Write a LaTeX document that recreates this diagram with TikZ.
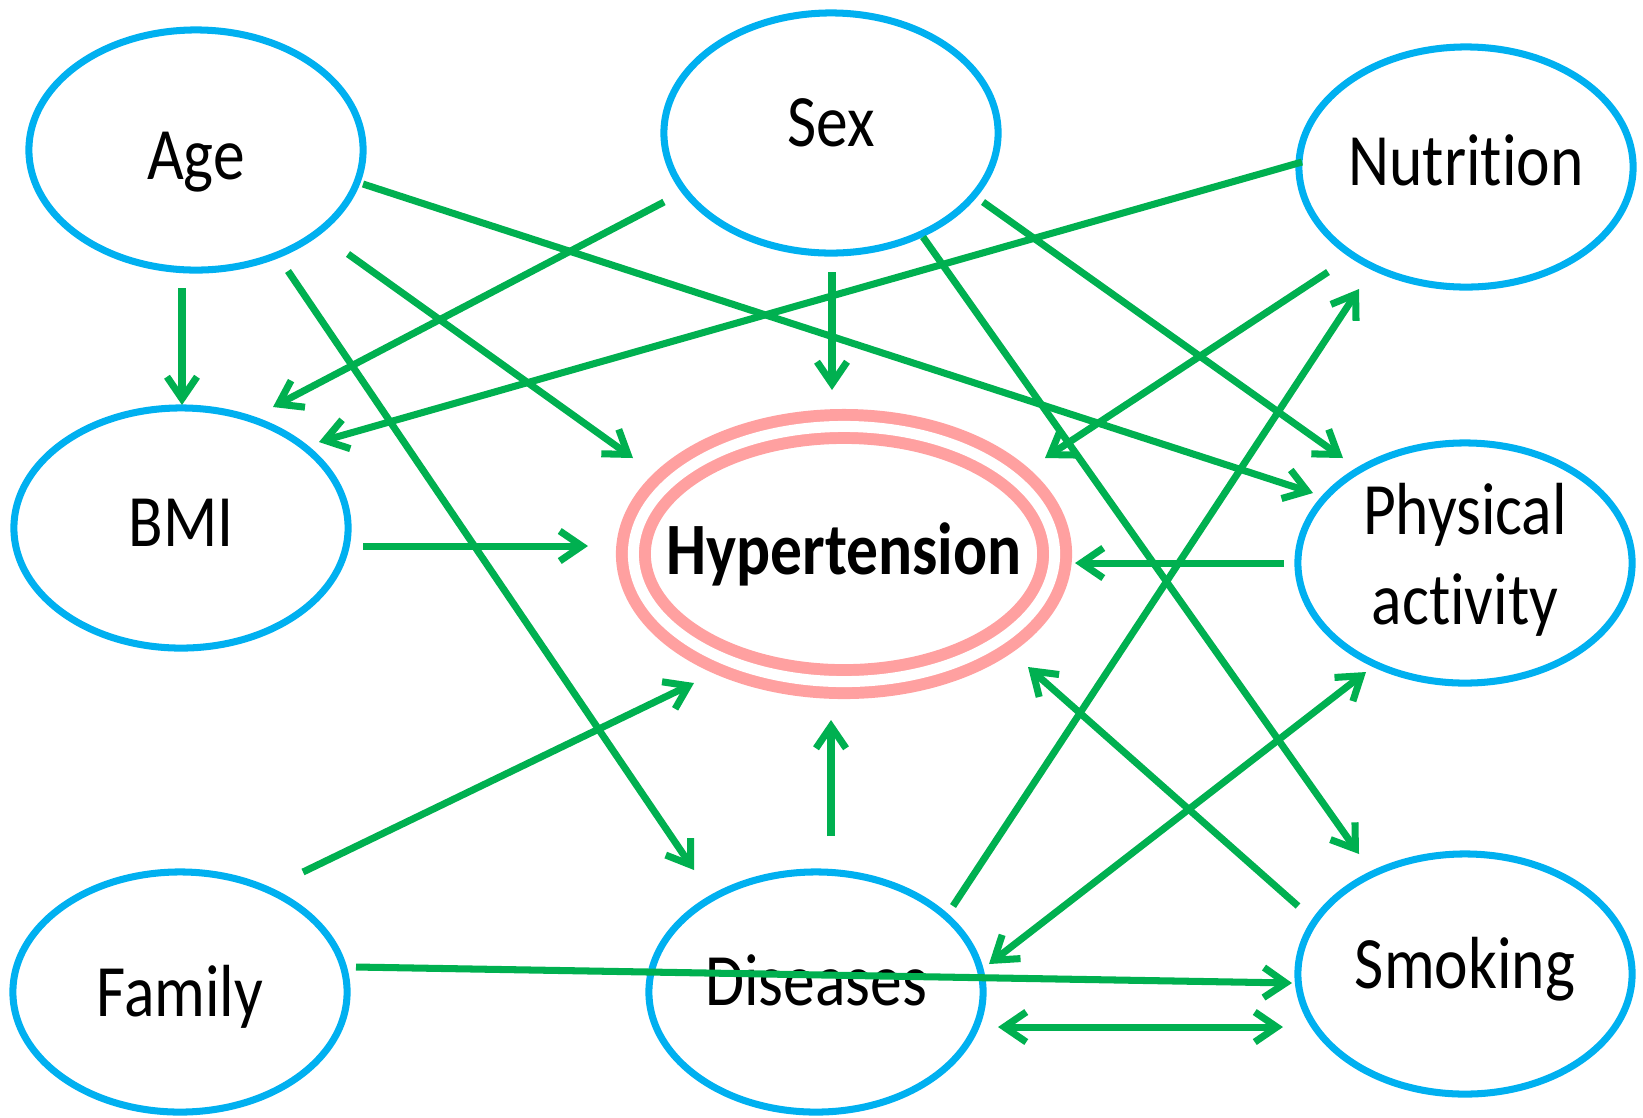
\documentclass[tikz,border=0pt]{standalone}
\usepackage{fontspec}
\setmainfont{Carlito}[FakeStretch=0.86,Ligatures={NoCommon,NoRequired,NoContextual}]
\usetikzlibrary{shapes.geometric,arrows.meta,calc}

\definecolor{ovalblue}{HTML}{00B0F0}
\definecolor{arrowgreen}{HTML}{00B050}
\definecolor{ringpink}{HTML}{FFA0A0}

\tikzset{
  factor/.style={ellipse,draw=ovalblue,line width=2pt,minimum width=3.34cm,
    minimum height=2.4cm,inner sep=0pt},
  target/.style={ellipse,draw=ringpink,double=white,line width=3.4pt,
    double distance=0.11cm,minimum width=4.21cm,minimum height=2.55cm,inner sep=0pt},
  tag/.style={align=center,font=\fontsize{21}{25.5}\selectfont},
  link/.style={draw=arrowgreen,line width=2pt,->},
  twoway/.style={draw=arrowgreen,line width=2pt,<->},
}

\begin{document}
\begin{tikzpicture}[x=0.01cm,y=-0.01cm,>={Straight Barb[length=0.22cm,width=0.3cm]}]
  \useasboundingbox (0,0) rectangle (1643,1117);

  % factors
  \node[factor,label={[tag,yshift=-3.4pt]center:Age}] (age) at (196,150) {};
  \node[factor,label={[tag,yshift=2.9pt]center:Sex}] (sex) at (831,133) {};
  \node[factor,label={[tag,yshift=1.8pt]center:Nutrition}] (nutr) at (1466,167) {};
  \node[factor,label={[tag,yshift=1.5pt]center:BMI}] (bmi) at (181,528) {};
  \node[factor,label={[tag,yshift=0.9pt]center:Physical\\activity}] (phys) at (1465,563) {};
  \node[factor,label={[tag,yshift=-1.5pt]center:Family}] (fam) at (180,992) {};
  \node[factor,label={[tag,yshift=3.4pt]center:Diseases}] (dis) at (816,992) {};
  \node[factor,label={[tag,yshift=1.5pt]center:Smoking}] (smok) at (1465,974) {};
  \node[target,label={[tag,font=\fontsize{21}{25.5}\selectfont\bfseries]center:Hypertension}] (hyp) at (844,554) {};

  % effects
  \draw[link] ($(age)+(-14,138)$) -- ($(bmi)+(1,-123)$);
  \draw[link] ($(age)+(92,121)$) -- ($(dis)+(-122,-122)$);
  \draw[link] ($(age)+(152,104)$) -- ($(hyp)+(-211,-96)$);
  \draw[link] ($(age)+(167,34)$) -- ($(phys)+(-152,-70)$);
  \draw[link] ($(sex)+(-167,69)$) -- ($(bmi)+(92,-121)$);
  \draw[link] ($(sex)+(1,139)$) -- ($(hyp)+(-12,-164)$);
  \draw[link] ($(sex)+(152,69)$) -- ($(phys)+(-122,-105)$);
  \draw[link] ($(sex)+(92,104)$) -- ($(smok)+(-106,-120)$);
  \draw[link] ($(nutr)+(-164,-5)$) -- ($(bmi)+(138,-86)$);
  \draw[link] ($(nutr)+(-138,105)$) -- ($(hyp)+(201,-96)$);
  \draw[link] ($(bmi)+(182,18)$) -- ($(hyp)+(-256,-8)$);
  \draw[link] ($(phys)+(-181,0)$) -- ($(hyp)+(231,9)$);
  \draw[link] ($(fam)+(123,-120)$) -- ($(hyp)+(-150,129)$);
  \draw[link] ($(fam)+(176,-25)$) -- ($(smok)+(-173,9)$);
  \draw[link] ($(dis)+(15,-156)$) -- ($(hyp)+(-13,166)$);
  \draw[link] ($(dis)+(137,-86)$) -- ($(nutr)+(-107,122)$);
  \draw[link] ($(smok)+(-167,-68)$) -- ($(hyp)+(184,113)$);
  \draw[twoway] ($(dis)+(173,-28)$) -- ($(phys)+(-99,109)$);
  \draw[twoway] ($(dis)+(182,35)$) -- ($(smok)+(-182,53)$);
\end{tikzpicture}
\end{document}
